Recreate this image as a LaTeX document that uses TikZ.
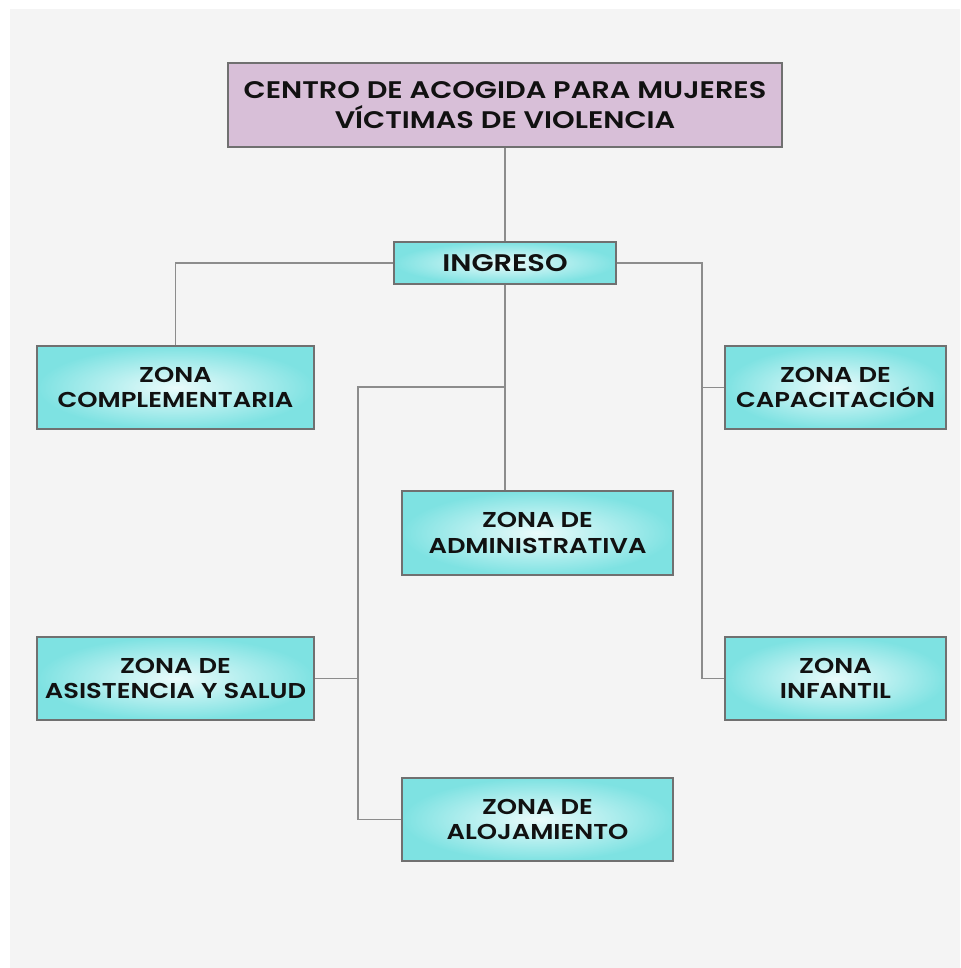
\documentclass[tikz,border=0pt]{standalone}
\usepackage{fontspec}
\setmainfont{Poppins}[FakeStretch=1.2,BoldFont={Poppins SemiBold}]
\definecolor{bggray}{HTML}{F4F4F4}
\definecolor{titlefill}{HTML}{D8BFD8}
\definecolor{boxborder}{HTML}{707070}
\definecolor{lineg}{HTML}{8C8C8C}
\definecolor{cyanout}{HTML}{7EE2E2}
\definecolor{cyanin}{HTML}{EAFBFB}
\definecolor{txt}{HTML}{111111}
\begin{document}
\begin{tikzpicture}[x=1pt,y=-1pt,
  box/.style={draw=boxborder,line width=1.2pt,inner color=cyanin,outer color=cyanout,
    align=center,text=txt,font=\fontsize{21.5pt}{25.6pt}\selectfont\bfseries,inner sep=0pt},
  titlebox/.style={draw=boxborder,line width=1.2pt,fill=titlefill,align=center,text=txt,
    font=\fontsize{24pt}{30.6pt}\selectfont\bfseries,inner sep=0pt,
    minimum width=554pt,minimum height=84pt},
  conn/.style={draw=lineg,line width=1.3pt}]
\useasboundingbox (0,0) rectangle (960,968);
\fill[white] (0,0) rectangle (960,968);
\fill[bggray] (10,9) rectangle (960,968);

\node[titlebox] (title) at (505,105) {CENTRO DE ACOGIDA PARA MUJERES\\VÍCTIMAS DE VIOLENCIA};
\node[box,minimum width=222pt,minimum height=42pt,font=\fontsize{24pt}{30pt}\selectfont\bfseries] (ingreso) at (505,263) {INGRESO};
\node[box,minimum width=277pt,minimum height=83pt] (comp) at (175.5,387.5) {ZONA\\COMPLEMENTARIA};
\node[box,minimum width=221pt,minimum height=83pt] (cap) at (835.5,387.5) {ZONA DE\\CAPACITACIÓN};
\node[box,minimum width=271pt,minimum height=84pt] (adm) at (537.5,533) {ZONA DE\\ADMINISTRATIVA};
\node[box,minimum width=277pt,minimum height=83pt] (asis) at (175.5,678.5) {ZONA DE\\ASISTENCIA Y SALUD};
\node[box,minimum width=221pt,minimum height=83pt] (inf) at (835.5,678.5) {ZONA\\INFANTIL};
\node[box,minimum width=271pt,minimum height=83pt] (aloj) at (537.5,819.5) {ZONA DE\\ALOJAMIENTO};

\coordinate (rj) at (702,263);
\coordinate (cj) at (505,387);
\coordinate (lj) at (358,387);

\draw[conn] (title.south) -- (ingreso.north);
\draw[conn] (ingreso.west) -| (comp.north);
\draw[conn] (ingreso.east) -- (rj) |- (inf.west);
\draw[conn] (rj |- cap.west) -- (cap.west);
\draw[conn] (ingreso.south) -- (ingreso.south |- adm.north);
\draw[conn] (cj) -- (lj) |- (aloj.west);
\draw[conn] (lj |- asis.east) -- (asis.east);
\end{tikzpicture}
\end{document}
